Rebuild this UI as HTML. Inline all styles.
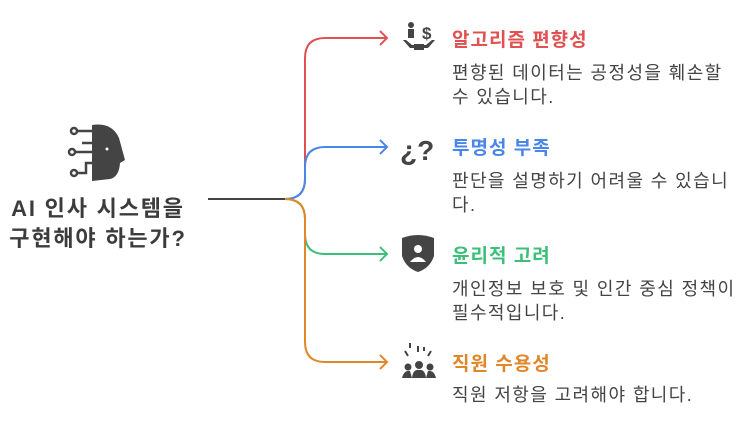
<!DOCTYPE html>
<html><head><meta charset="utf-8"><style>
body{margin:0;width:753px;height:431px;background:#fff;overflow:hidden;position:relative;font-family:"Liberation Sans","Noto Sans CJK KR",sans-serif}
.t{position:absolute;font-weight:bold;font-size:19px;letter-spacing:1px;left:452px;white-space:nowrap}
.d{position:absolute;font-size:18px;letter-spacing:1.4px;color:#444;left:452px;line-height:24px;width:300px;white-space:nowrap}
.m{position:absolute;left:-6px;width:208px;text-align:center;font-weight:bold;font-size:22px;letter-spacing:1.8px;color:#3c3c3c;line-height:30px;top:194px;white-space:nowrap}
</style></head><body>
<svg width="753" height="431" style="position:absolute;left:0;top:0" fill="none" stroke-width="2">
<path d="M208 199 H285" stroke="#444"/>
<path d="M285 199 Q305 199 305 179 V58 Q305 38 325 38 H387 M380 31 L387 38 L380 45" stroke="#e05252"/>
<path d="M285 199 Q305 199 305 179 V167 Q305 147 325 147 H387 M380 140 L387 147 L380 154" stroke="#4a86e8"/>
<path d="M285 199 Q305 199 305 219 V234 Q305 254 325 254 H387 M380 247 L387 254 L380 261" stroke="#3dbf7a"/>
<path d="M285 199 Q305 199 305 219 V342 Q305 362 325 362 H387 M380 355 L387 362 L380 369" stroke="#e0872a"/>
<g fill="#444" stroke="none">
<path d="M92 125 Q112 122 119 138 L125 160 L120 163 Q119 177 110 179 L92 181 Z"/>
</g>
<g stroke="#444" stroke-width="2.5">
<circle cx="74" cy="131" r="3"/><path d="M77 131 H92"/>
<circle cx="72" cy="152" r="3"/><path d="M75 152 H92 M82 143 H92"/>
<circle cx="74" cy="173" r="3"/><path d="M77 173 H86 V163 H92"/>
</g>
<circle cx="107" cy="149" r="1.5" fill="#fff"/>
<g fill="#444">
<circle cx="411" cy="25" r="3"/><rect x="408" y="29" width="6" height="9"/>
<text x="422" y="39" font-size="17" font-weight="bold" font-family="Liberation Sans">$</text>
<path d="M403 40 L410 48 L428 48 L435 40 L432 40 L426 45 L412 45 L406 40Z"/>
<rect x="414" y="44" width="10" height="6"/>
<text x="400" y="160" font-size="28" font-weight="bold" font-family="Liberation Sans">¿?</text>
<path d="M402 238 Q418 232 434 238 V256 Q430 268 418 272 Q406 268 402 256Z"/>
<circle cx="408" cy="367" r="3.5"/><circle cx="419" cy="365" r="4"/><circle cx="430" cy="367" r="3.5"/>
<path d="M402 378 Q404 370 410 371 L412 378Z M412 378 Q413 369 419 370 Q425 369 426 378Z M426 378 L428 371 Q434 370 436 378Z"/>
</g>
<g fill="#fff"><circle cx="418" cy="249" r="4"/><path d="M410 262 Q418 252 426 262Z"/></g>
<g stroke="#444" stroke-width="2"><path d="M405 351 l3 5 M431 351 l-3 5 M418 346 v6 M424 347 v4 M410 343 v5"/></g>
</svg>
<div class="m">AI 인사 시스템을<br>구현해야 하는가?</div>
<div class="t" style="top:25px;color:#e05252">알고리즘 편향성</div>
<div class="d" style="top:61px">편향된 데이터는 공정성을 훼손할<br>수 있습니다.</div>
<div class="t" style="top:133px;color:#4a86e8">투명성 부족</div>
<div class="d" style="top:169px">판단을 설명하기 어려울 수 있습니<br>다.</div>
<div class="t" style="top:241px;color:#3dbf7a">윤리적 고려</div>
<div class="d" style="top:277px">개인정보 보호 및 인간 중심 정책이<br>필수적입니다.</div>
<div class="t" style="top:349px;color:#e0872a">직원 수용성</div>
<div class="d" style="top:383px">직원 저항을 고려해야 합니다.</div>
</body></html>
